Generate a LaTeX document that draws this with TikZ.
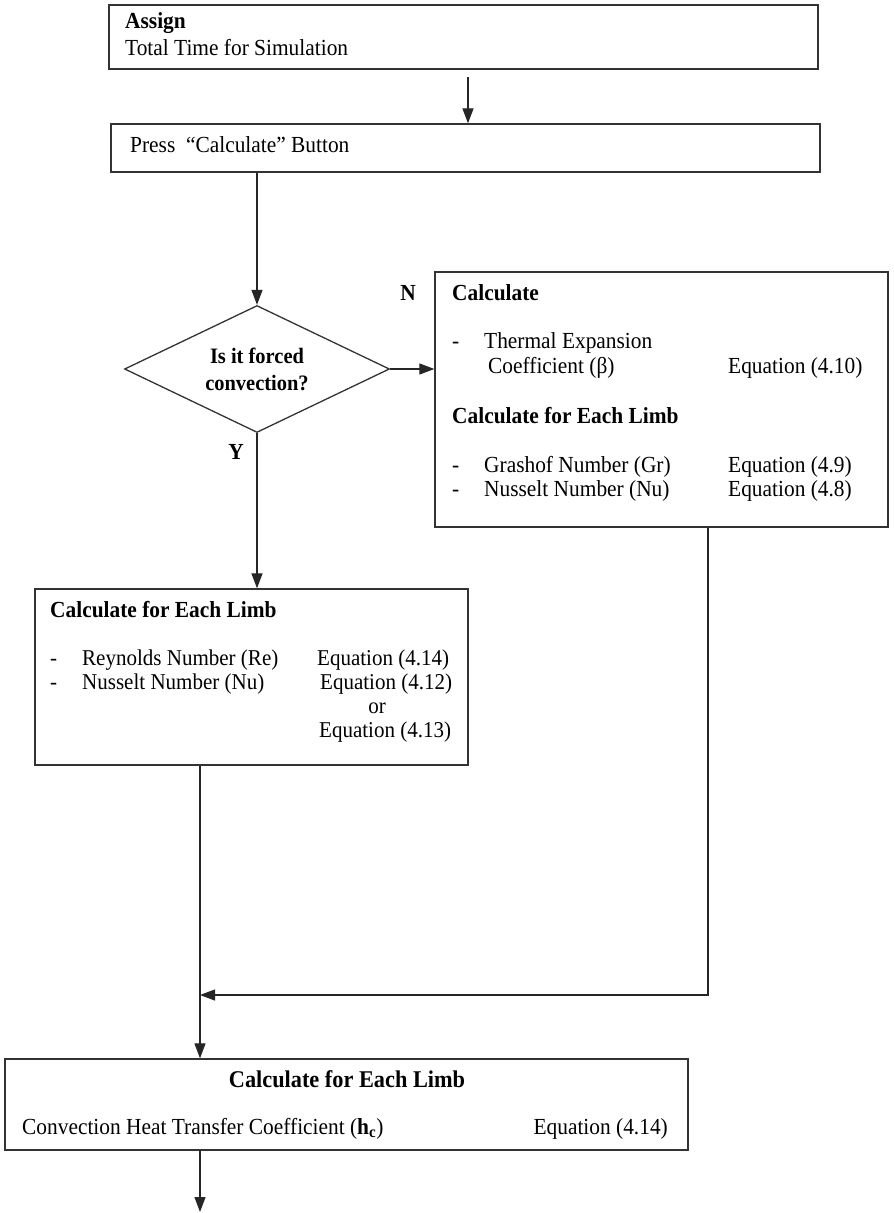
\documentclass[tikz,border=0pt]{standalone}
\usepackage{fontspec}
\setmainfont{Liberation Serif}
\newfontfamily\cond[FakeStretch=0.93]{Liberation Serif}
\usetikzlibrary{arrows.meta,shapes.geometric}
\begin{document}
\begin{tikzpicture}[x=1pt,y=-1pt,
  box/.style={draw=black!80,line width=1.3pt,rectangle,inner sep=0pt},
  arr/.style={draw=black!85,line width=1.2pt,-{Triangle[width=11pt,length=15pt]}},
  txt/.style={anchor=base west,inner sep=0pt,font=\cond\fontsize{23}{27}\selectfont},
  ytxt/.style={anchor=base west,inner sep=0pt,font=\cond\fontsize{22.6}{27}\selectfont},
  txtr/.style={anchor=base east,inner sep=0pt,font=\cond\fontsize{23}{27}\selectfont},
  hd/.style={anchor=base west,inner sep=0pt,font=\cond\bfseries\fontsize{23}{27}\selectfont},
  lbl/.style={inner sep=0pt,font=\cond\bfseries\fontsize{23}{27}\selectfont}]
\useasboundingbox (0,0) rectangle (894,1213);
% boxes
\node[box,minimum width=709pt,minimum height=64pt] (b1) at (463.5,37) {};
\node[box,minimum width=709pt,minimum height=48pt] (b2) at (465.5,148) {};
\node[draw=black!80,line width=1.3pt,diamond,aspect=2.09,minimum width=265pt,minimum height=127pt,inner sep=0pt,
      align=center,font=\cond\bfseries\fontsize{22}{27}\selectfont] (dia) at (257,369) {Is it forced\\convection?};
\node[box,minimum width=453pt,minimum height=255pt] (nb) at (661.5,399.5) {};
\node[box,minimum width=433pt,minimum height=176pt] (yb) at (251.5,677) {};
\node[box,minimum width=683pt,minimum height=91pt] (bt) at (346.5,1104.5) {};
% box 1
\node[hd] (t1a) at (125,28) {Assign};
\node[txt] (t1b) at (125,55) {Total Time for Simulation};
% box 2
\node[txt] (t2) at (130,152) {Press\ \ “Calculate” Button};
% labels
\node[lbl] (lN) at (408,293) {N};
\node[lbl] (lY) at (236,452) {Y};
% N box
\node[hd] (n1) at (452,300) {Calculate};
\node[txt] (n2d) at (452,348) {-};
\node[txt] (n2) at (484,348) {Thermal Expansion};
\node[txt] (n3) at (488,373) {Coefficient (β)};
\node[txt] (n3e) at (728,373) {Equation (4.10)};
\node[hd] (n4) at (452,423) {Calculate for Each Limb};
\node[txt] (n5d) at (452,472) {-};
\node[txt] (n5) at (484,472) {Grashof Number (Gr)};
\node[txt] (n5e) at (728,472) {Equation (4.9)};
\node[txt] (n6d) at (452,496) {-};
\node[txt] (n6) at (484,496) {Nusselt Number (Nu)};
\node[txt] (n6e) at (728,496) {Equation (4.8)};
% Y box
\node[hd] (y1) at (50,617) {Calculate for Each Limb};
\node[ytxt] (y2d) at (50,665) {-};
\node[ytxt] (y2) at (82,665) {Reynolds Number (Re)};
\node[ytxt] (y2e) at (317,665) {Equation (4.14)};
\node[ytxt] (y3d) at (50,689) {-};
\node[ytxt] (y3) at (82,689) {Nusselt Number (Nu)};
\node[ytxt] (y3e) at (320,689) {Equation (4.12)};
\node[ytxt,anchor=base] (y4) at (377,713) {or};
\node[ytxt] (y5) at (319,737) {Equation (4.13)};
% bottom box
\node[hd,anchor=base,font=\cond\bfseries\fontsize{24}{28}\selectfont] (bt1) at (347,1087) {Calculate for Each Limb};
\node[txt] (bt2) at (22,1134) {Convection Heat Transfer Coefficient (\textbf{h\textsubscript{c}})};
\node[txtr] (bt3) at (668,1134) {Equation (4.14)};
% coordinates
\coordinate (jx) at (200,995);
\coordinate (nx) at (708,995);
\coordinate (endc) at (200,1212);
% connectors
\draw[arr] ([xshift=4.5pt,yshift=-7pt]b1.south) -- ([xshift=2.5pt]b2.north);
\draw[arr] (b2.south -| dia.north) -- (dia.north);
\draw[arr] (dia.east) -- (dia.east -| nb.west);
\draw[arr] (dia.south) -- (dia.south |- yb.north);
\draw[arr] (yb.south -| jx) -- (bt.north -| jx);
\draw[arr] (nb.south -| nx) -- (nx) -- (jx);
\draw[arr] (bt.south -| endc) -- (endc);
\end{tikzpicture}
\end{document}
